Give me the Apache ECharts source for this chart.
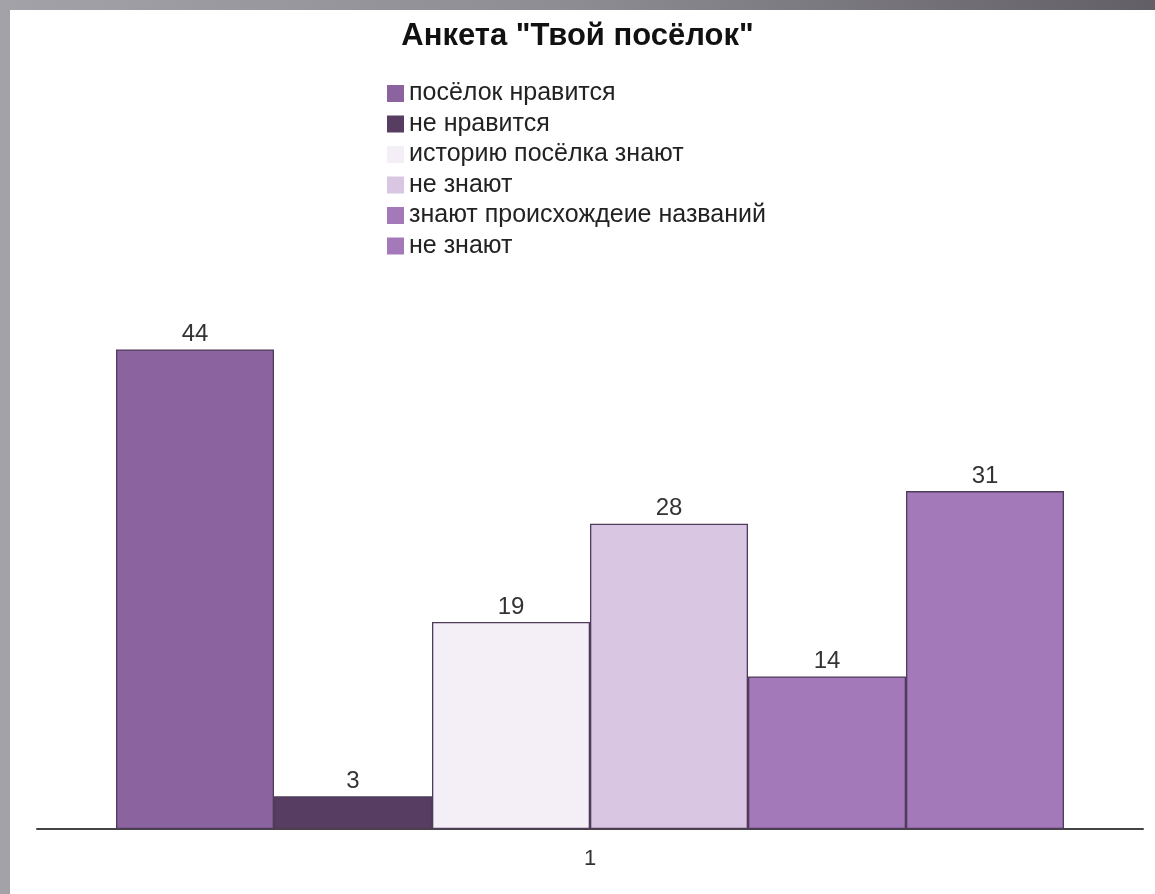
<!DOCTYPE html>
<html>
<head>
<meta charset="utf-8">
<script src="https://cdn.jsdelivr.net/npm/echarts@6/dist/echarts.min.js"></script>
<style>
  html, body { margin: 0; padding: 0; width: 1155px; height: 894px; overflow: hidden; }
  body { background: linear-gradient(to right, #a3a2a8 0%, #8e8c93 50%, #625f67 100%); position: relative; }
  #bg { position: absolute; left: 10px; top: 10px; right: 0; bottom: 0; background: #ffffff; }
  #chart { position: absolute; left: 0; top: 0; width: 1155px; height: 894px; }
</style>
</head>
<body>
<div id="bg"></div>
<div id="chart"></div>
<script>
const titleText = 'Анкета "Твой посёлок"';
const categories = ['1'];
const seriesNames = ['посёлок нравится', 'не нравится', 'историю посёлка знают', 'не знают', 'знают происхождеие названий', 'не знают '];
const seriesValues = [44, 3, 19, 28, 14, 31];
const seriesColors = ['#8b649f', '#583d62', '#f4eef7', '#d9c6e2', '#a379ba', '#a379ba'];

const chart = echarts.init(document.getElementById('chart'), null, { renderer: 'canvas' });
const FONT = 'Liberation Sans, Arial, sans-serif';

const series = seriesNames.map((name, i) => ({
  name: name,
  type: 'bar',
  data: [seriesValues[i]],
  barWidth: 158,
  barGap: '0%',
  itemStyle: { color: seriesColors[i], borderColor: '#4f3b5a', borderWidth: 1.3 },
  label: {
    show: true,
    position: 'top',
    distance: 3,
    color: '#333333',
    fontFamily: FONT,
    fontSize: 24
  }
}));

chart.setOption({
  backgroundColor: 'transparent',
  animation: false,
  title: {
    text: titleText,
    left: 'center',
    top: 16,
    textStyle: { fontFamily: FONT, fontSize: 31, fontWeight: 'bold', color: '#111111' }
  },
  legend: {
    orient: 'vertical',
    left: 382,
    top: 76,
    itemWidth: 17,
    itemHeight: 17,
    itemGap: 5.5,
    icon: 'rect',
    itemStyle: { borderWidth: 0 },
    textStyle: { fontFamily: FONT, fontSize: 25, color: '#222222', padding: [0, 0, 0, 0] },
    data: seriesNames
  },
  grid: { left: 37, right: 12, top: 284, bottom: 65, containLabel: false },
  xAxis: {
    type: 'category',
    data: categories,
    axisLine: { lineStyle: { color: '#444444', width: 2 } },
    axisTick: { show: false },
    axisLabel: { color: '#333333', fontFamily: FONT, fontSize: 22, margin: 19 }
  },
  yAxis: {
    type: 'value',
    min: 0,
    max: 50,
    show: false,
    splitLine: { show: false }
  },
  series: series
});
</script>
</body>
</html>
